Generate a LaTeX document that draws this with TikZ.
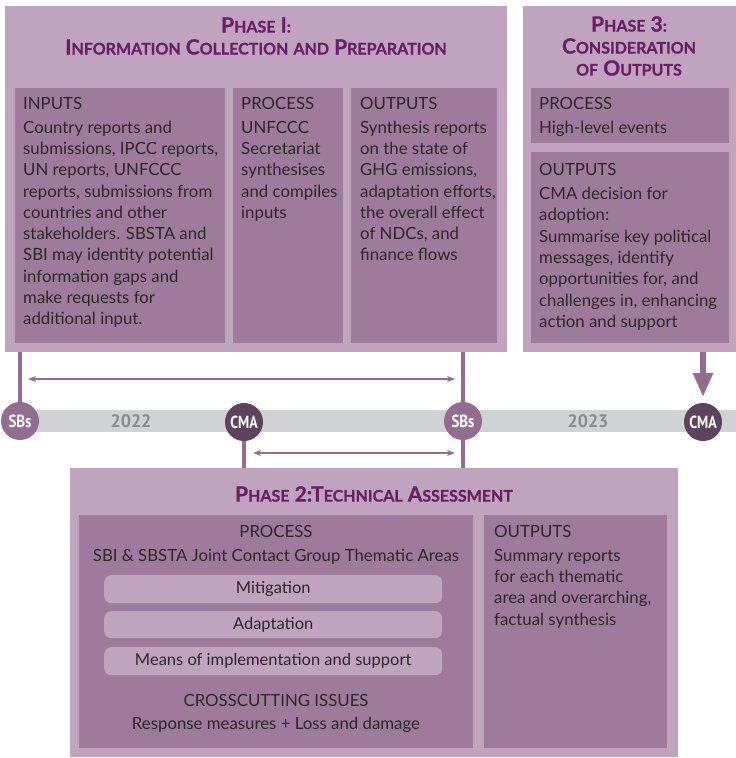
\documentclass[tikz,border=0pt]{standalone}
\usepackage{fontspec}
\setmainfont{Lato}
\newfontfamily\condfont{PT Sans}
\newfontfamily\titlefont{Lato}[BoldFeatures={FakeBold=0.8}]
\usetikzlibrary{arrows.meta}
\definecolor{outerc}{HTML}{BFA3BF}
\definecolor{innerc}{HTML}{9E7B9C}
\definecolor{titlec}{HTML}{6A1E66}
\definecolor{textc}{HTML}{2B2627}
\definecolor{sbc}{HTML}{946C92}
\definecolor{cmac}{HTML}{5F425E}
\definecolor{bandc}{HTML}{D1D2D3}
\definecolor{yearc}{HTML}{8A8A8A}
\definecolor{linec}{HTML}{946C92}
\newcommand\Cp[2]{{\fontsize{21}{22}\selectfont #1}{\fontsize{16}{22}\selectfont #2}}
\begin{document}
\begin{tikzpicture}[x=1pt,y=-1pt,
  outerbox/.style={fill=outerc, draw=none, anchor=north west, inner sep=0, outer sep=0},
  innerbox/.style={fill=innerc, draw=none, anchor=north west, inner sep=0, outer sep=0},
  pill/.style={fill=outerc, draw=none, anchor=north west, inner sep=0, rounded corners=7pt},
  pilltext/.style={text=textc, font=\fontsize{16.5}{20}\selectfont, inner sep=0},
  body/.style={anchor=north west, inner sep=0, align=left, text=textc, font=\fontsize{16.8}{21.3}\selectfont},
  cbody/.style={anchor=north, inner sep=0, align=center, text=textc, font=\fontsize{16.8}{21.3}\selectfont},
  ptitle/.style={text=titlec, font=\titlefont\bfseries\fontsize{21}{22}\selectfont, align=center, inner sep=0},
  dot/.style={circle, minimum size=38pt, inner sep=0, outer sep=0, text=white, font=\condfont\bfseries\fontsize{17.5}{17.5}\selectfont},
  year/.style={text=yearc, font=\condfont\bfseries\fontsize{18}{18}\selectfont, inner sep=0},
  vline/.style={draw=linec, line width=4pt},
  dbl/.style={draw=linec, line width=1.4pt, {Stealth[length=8pt,width=6pt]}-{Stealth[length=8pt,width=6pt]}},
  bigarrow/.style={draw=linec, line width=5.5pt, -{Triangle[length=24pt,width=19pt]}}
]
\useasboundingbox (0,0) rectangle (736,758);

% timeline band
\node[fill=bandc, anchor=north west, inner sep=0, minimum width=716pt, minimum height=22pt] (band) at (20,410) {};

% Phase 1
\node[outerbox, minimum width=502pt, minimum height=346pt] (p1) at (5,6) {};
\node[innerbox, minimum width=210pt, minimum height=255pt] (p1in) at (15,88) {};
\node[innerbox, minimum width=110pt, minimum height=255pt] (p1pr) at (233,88) {};
\node[innerbox, minimum width=146pt, minimum height=255pt] (p1out) at (351,88) {};
\node[ptitle] (p1t) at (256,36) {\Cp{P}{HASE} \Cp{I}{:}\\\Cp{I}{NFORMATION} \Cp{C}{OLLECTION} \Cp{}{AND} \Cp{P}{REPARATION}};
\node[body] (p1int) at (23,97) {INPUTS\\[2.5pt]Country reports and\\submissions, IPCC reports,\\UN reports, UNFCCC\\reports, submissions from\\countries and other\\stakeholders. SBSTA and\\SBI may identity potential\\information gaps and\\make requests for\\additional input.};
\node[body] (p1prt) at (241,97) {PROCESS\\[2.5pt]UNFCCC\\Secretariat\\synthesises\\and compiles\\inputs};
\node[body] (p1outt) at (360,97) {OUTPUTS\\[2.5pt]Synthesis reports\\on the state of\\GHG emissions,\\adaptation efforts,\\the overall effect\\of NDCs, and\\finance flows};

% Phase 3
\node[outerbox, minimum width=213pt, minimum height=346pt] (p3) at (523,6) {};
\node[innerbox, minimum width=198pt, minimum height=55pt] (p3pr) at (531,88) {};
\node[innerbox, minimum width=198pt, minimum height=191pt] (p3out) at (531,152) {};
\node[ptitle] (p3t) at (629,46) {\Cp{P}{HASE} \Cp{3}{:}\\\Cp{C}{ONSIDERATION}\\\Cp{}{OF} \Cp{O}{UTPUTS}};
\node[body] (p3prt) at (539,97) {PROCESS\\[2.5pt]High-level events};
\node[body] (p3outt) at (539,163) {OUTPUTS\\[3pt]CMA decision for\\adoption:\\Summarise key political\\messages, identify\\opportunities for, and\\challenges in, enhancing\\action and support};

% Phase 2
\node[outerbox, minimum width=608pt, minimum height=289pt] (p2) at (70,468) {};
\node[innerbox, minimum width=394pt, minimum height=233pt] (p2pr) at (79,515) {};
\node[innerbox, minimum width=183pt, minimum height=233pt] (p2out) at (484,515) {};
\node[ptitle] (p2t) at (374,494) {\Cp{P}{HASE} \Cp{2:T}{ECHNICAL} \Cp{A}{SSESSMENT}};
\node[cbody] (p2prt) at (276,525) {PROCESS\\[2.5pt]SBI \& SBSTA Joint Contact Group Thematic Areas};
\node[pill, minimum width=338pt, minimum height=28pt] (mit) at (104,575) {};
\node[pilltext] at (mit.center) {Mitigation};
\node[pill, minimum width=338pt, minimum height=27pt] (ada) at (104,611) {};
\node[pilltext] at (ada.center) {Adaptation};
\node[pill, minimum width=338pt, minimum height=28pt] (moi) at (104,647) {};
\node[pilltext] at (moi.center) {Means of implementation and support};
\node[cbody] (cross) at (276,694) {CROSSCUTTING ISSUES\\[2pt]Response measures + Loss and damage};
\node[body] (p2outt) at (494,525) {OUTPUTS\\[2.5pt]Summary reports\\for each thematic\\area and overarching,\\factual synthesis};

% timeline dots
\node[dot, fill=sbc] (sb1) at (20,421) {\scalebox{0.85}[1]{SBs}};
\node[dot, fill=cmac] (cma1) at (244,422) {\scalebox{0.8}[1]{CMA}};
\node[dot, fill=sbc] (sb2) at (463,421) {\scalebox{0.85}[1]{SBs}};
\node[dot, fill=cmac] (cma2) at (703,422) {\scalebox{0.8}[1]{CMA}};
\node[year] (y22) at (131,421) {2022};
\node[year] (y23) at (588,421) {2023};

% connectors
\draw[vline] (sb1.north) -- (sb1.north |- p1.south);
\draw[vline] (sb2.north) -- (sb2.north |- p1.south);
\draw[vline] (sb2.south) -- (sb2.south |- p2.north);
\draw[vline] (cma1.south) -- (cma1.south |- p2.north);
\draw[bigarrow, shorten >=6pt] (cma2.north |- p3.south) -- (cma2.north);
\coordinate (a1l) at (28,379);
\coordinate (a1r) at (455,379);
\coordinate (a2l) at (253,453);
\coordinate (a2r) at (455,453);
\draw[dbl] (a1l) -- (a1r);
\draw[dbl] (a2l) -- (a2r);
\end{tikzpicture}
\end{document}
